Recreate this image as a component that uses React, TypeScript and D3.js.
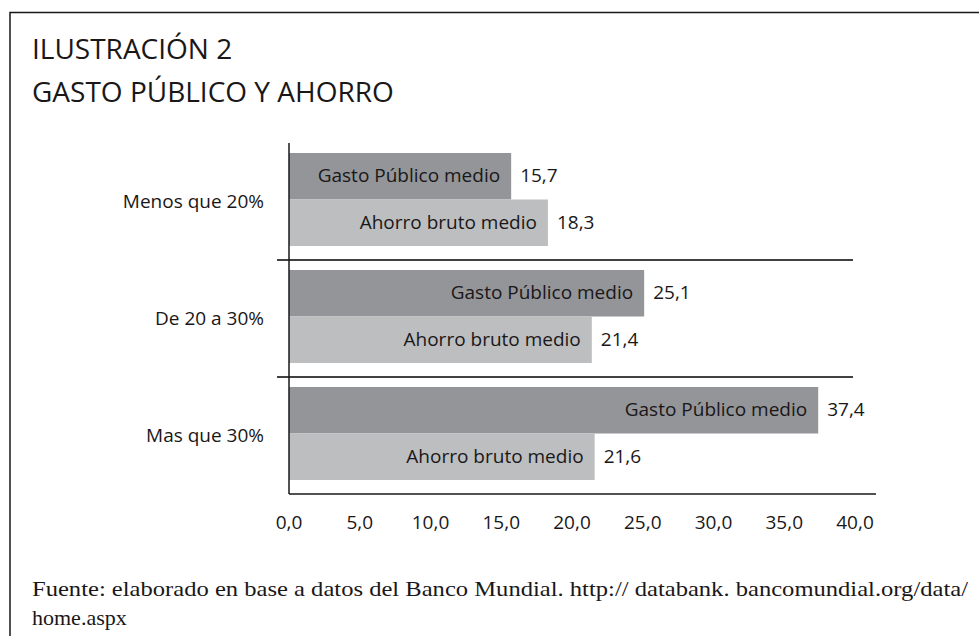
import { useRef, useEffect } from "react";
import * as d3 from "d3";

const categories: string[] = ["Menos que 20%", "De 20 a 30%", "Mas que 30%"];
const seriesNames: string[] = ["Gasto Público medio", "Ahorro bruto medio"];
const gastoValues: number[] = [15.7, 25.1, 37.4];
const ahorroValues: number[] = [18.3, 21.4, 21.6];
const tickValues: number[] = [0, 5, 10, 15, 20, 25, 30, 35, 40];

const seriesColors = ["#939598", "#bcbec0"];
const sans = "'Open Sans', 'Noto Sans', sans-serif";
const ink = "#1a1718";

const App = () => {
  const svgRef = useRef<SVGSVGElement>(null);

  const width = 979;
  const height = 636;

  useEffect(() => {
    const svg: any = d3.select(svgRef.current);
    svg.selectAll("*").remove();

    const locale = d3.formatLocale({ decimal: ",", thousands: ".", grouping: [3], currency: ["", ""] });
    const fmt = locale.format(".1f");

    const x = d3.scaleLinear().domain([0, 40]).range([289, 855]);
    const y = d3.scaleBand().domain(categories).range([143, 494]);
    const inner = d3.scaleBand().domain(seriesNames).range([10, 103]);

    // frame
    svg.append("path")
      .attr("d", `M10,${height} L10,12.5 L${width},12.5`)
      .attr("fill", "none")
      .attr("stroke", ink)
      .attr("stroke-width", 1.5);

    // title
    const title = svg.append("g")
      .attr("font-family", sans)
      .attr("font-size", 28)
      .attr("fill", ink);
    title.append("text").attr("x", 32).attr("y", 59).text("ILUSTRACIÓN 2");
    title.append("text").attr("x", 32).attr("y", 102).text("GASTO PÚBLICO Y AHORRO");

    const rows = categories.map((c, i) => ({
      cat: c,
      values: [gastoValues[i], ahorroValues[i]],
    }));

    const g = svg.append("g").attr("font-family", sans).attr("font-size", 19).attr("fill", ink);

    rows.forEach((row) => {
      const y0 = y(row.cat) as number;
      row.values.forEach((v, j) => {
        const by = y0 + (inner(seriesNames[j]) as number);
        const bh = inner.bandwidth();
        g.append("rect")
          .attr("x", x(0))
          .attr("y", by)
          .attr("width", x(v) - x(0))
          .attr("height", bh)
          .attr("fill", seriesColors[j]);
        g.append("text")
          .attr("x", x(v) - 11)
          .attr("y", by + bh / 2 + 6)
          .attr("text-anchor", "end")
          .text(seriesNames[j]);
        g.append("text")
          .attr("x", x(v) + 9)
          .attr("y", by + bh / 2 + 6)
          .text(fmt(v));
      });
      g.append("text")
        .attr("x", 264)
        .attr("y", y0 + y.bandwidth() / 2 + 6)
        .attr("text-anchor", "end")
        .text(row.cat);
    });

    // separators between groups
    categories.slice(1).forEach((c) => {
      svg.append("line")
        .attr("x1", 277).attr("x2", 853)
        .attr("y1", y(c)).attr("y2", y(c))
        .attr("stroke", "#414042")
        .attr("stroke-width", 2);
    });

    // axes
    svg.append("line")
      .attr("x1", x(0)).attr("x2", x(0))
      .attr("y1", 143).attr("y2", 494)
      .attr("stroke", ink).attr("stroke-width", 1.5);
    svg.append("line")
      .attr("x1", x(0)).attr("x2", 876)
      .attr("y1", 494).attr("y2", 494)
      .attr("stroke", ink).attr("stroke-width", 1.5);

    svg.append("g")
      .attr("font-family", sans)
      .attr("font-size", 19)
      .attr("fill", ink)
      .selectAll("text")
      .data(tickValues)
      .join("text")
      .attr("x", (d: number) => x(d))
      .attr("y", 529)
      .attr("text-anchor", "middle")
      .text((d: number) => fmt(d));

    // source note
    const note = svg.append("g")
      .attr("font-family", "'Liberation Serif', 'DejaVu Serif', serif")
      .attr("font-size", 22)
      .attr("fill", ink);
    note.append("text")
      .attr("x", 32).attr("y", 596)
      .attr("textLength", 936)
      .attr("lengthAdjust", "spacingAndGlyphs")
      .text("Fuente: elaborado en base a datos del Banco Mundial. http:// databank. bancomundial.org/data/");
    note.append("text")
      .attr("x", 32).attr("y", 625)
      .text("home.aspx");
  }, []);

  return (
    <svg ref={svgRef} width={width} height={height} style={{ position: "absolute", left: 0, top: 0, background: "#fff" }} />
  );
};

export default App;
